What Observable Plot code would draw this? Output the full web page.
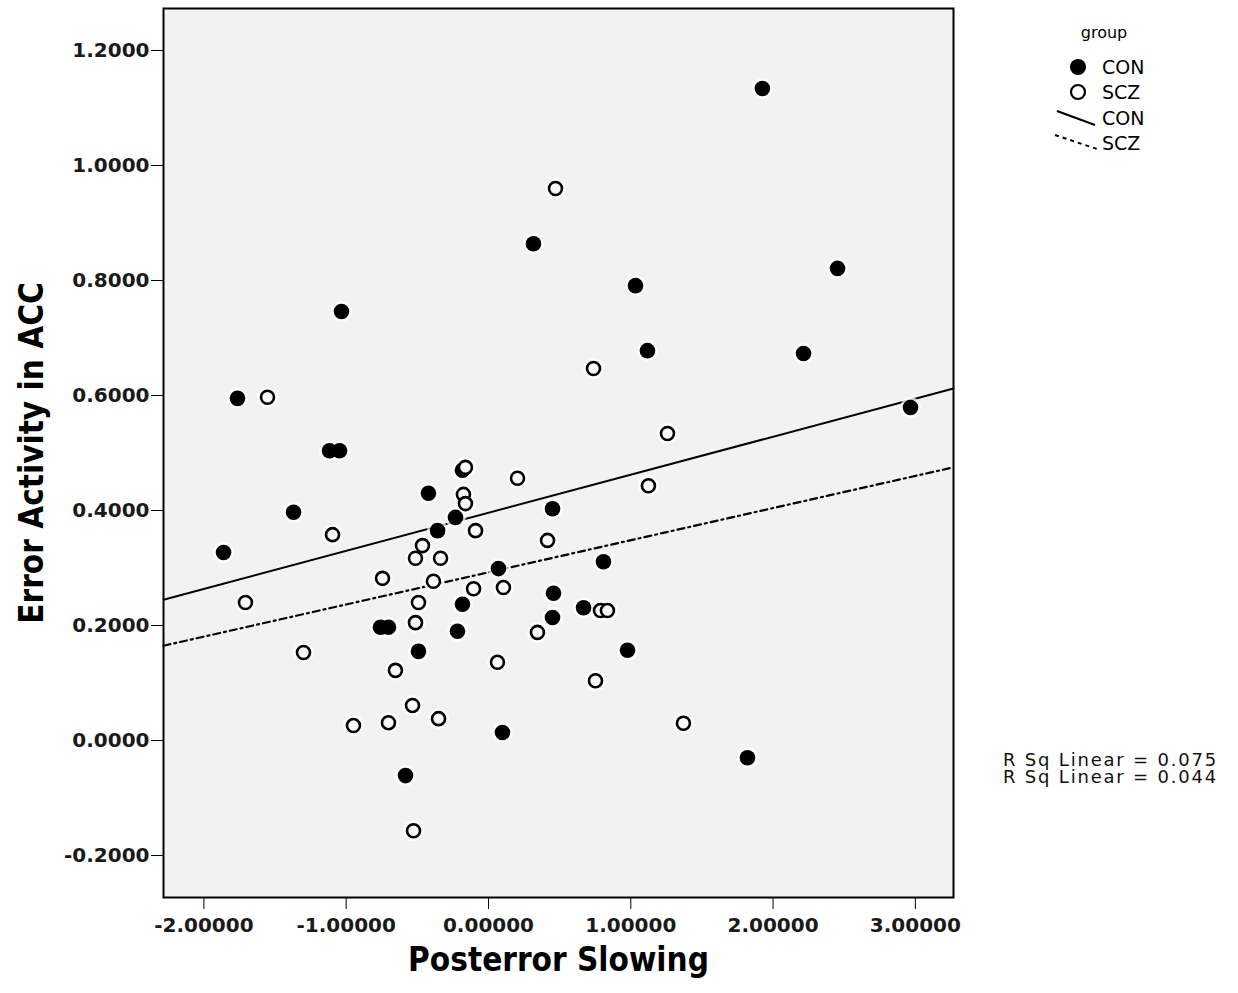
<!DOCTYPE html>
<html>
<head>
<meta charset="utf-8">
<script src="https://cdn.jsdelivr.net/npm/d3@7"></script>
<script src="https://cdn.jsdelivr.net/npm/@observablehq/plot@0.6"></script>
<style>
  html, body { margin: 0; padding: 0; background: #ffffff; }
  #wrap { position: relative; width: 1238px; height: 993px; overflow: hidden; }
  #legend { position: absolute; left: 1040px; top: 10px; }
  #rsq { position: absolute; left: 1003px; top: 751px; font-family: "DejaVu Sans", sans-serif; font-size: 18px; line-height: 17px; letter-spacing: 1.8px; color: #111; white-space: pre; }
  #chart g[aria-label="x-axis tick label"] text,
  #chart g[aria-label="y-axis tick label"] text { font-weight: bold; fill: #1a1a1a; }
</style>
</head>
<body>
<div id="wrap">
  <div id="chart"></div>
  <svg id="legend" width="140" height="150"></svg>
  <div id="rsq"></div>
</div>
<script>
// ---- data ----
const groups = ["CON", "SCZ"];
const conX = [-1.764, -1.862, -1.370, -1.033, -1.117, -1.047, -0.422, -0.358, -0.232, -0.183,
              0.316, 0.450, 0.070, 0.808, 0.457, 0.668, 0.450, -0.183, -0.218, -0.759,
              -0.703, -0.492, 0.098, 0.977, -0.583, 1.033, 1.117, 2.214, 1.925, 2.453,
              2.966, 1.820];
const conY = [0.595, 0.327, 0.397, 0.746, 0.504, 0.504, 0.430, 0.365, 0.388, 0.470,
              0.864, 0.403, 0.299, 0.311, 0.256, 0.231, 0.214, 0.237, 0.190, 0.197,
              0.197, 0.155, 0.014, 0.157, -0.061, 0.791, 0.678, 0.673, 1.134, 0.821,
              0.579, -0.030];
const sczX = [-1.553, -1.708, -1.300, -1.096, -0.162, -0.176, -0.162, -0.091, -0.464, -0.513,
              -0.337, -0.745, -0.387, -0.105, -0.492, -0.513, -0.654, -0.534, -0.949, -0.703,
              -0.351, -0.527, 0.204, 0.415, 0.105, 0.344, 0.063, 0.787, 0.836, 0.752,
              1.124, 1.258, 0.738, 0.471, 1.370];
const sczY = [0.597, 0.240, 0.153, 0.358, 0.475, 0.428, 0.412, 0.365, 0.339, 0.317,
              0.317, 0.282, 0.277, 0.264, 0.240, 0.205, 0.122, 0.061, 0.026, 0.031,
              0.038, -0.157, 0.456, 0.348, 0.266, 0.188, 0.136, 0.226, 0.226, 0.104,
              0.443, 0.534, 0.647, 0.960, 0.030];
const xTicks = [-2, -1, 0, 1, 2, 3];
const yTicks = [-0.2, 0, 0.2, 0.4, 0.6, 0.8, 1.0, 1.2];
const rSquared = ["0.075", "0.044"];
const xLabel = "Posterror Slowing";
const yLabel = "Error Activity in ACC";
const legendTitle = "group";

// ---- build tables ----
const con = conX.map((x, i) => ({x, y: conY[i], group: "CON"}));
const scz = sczX.map((x, i) => ({x, y: sczY[i], group: "SCZ"}));
const all = con.concat(scz);

const xDomain = [-2.284, 3.268];
const yDomain = [-0.273, 1.273];

// least-squares fit computed from the data, drawn across the frame
function fit(rows) {
  const mx = d3.mean(rows, d => d.x), my = d3.mean(rows, d => d.y);
  const sxy = d3.sum(rows, d => (d.x - mx) * (d.y - my));
  const sxx = d3.sum(rows, d => (d.x - mx) ** 2);
  const b = sxy / sxx, a = my - b * mx;
  return xDomain.map(x => ({x, y: a + b * x}));
}
const conFit = fit(con), sczFit = fit(scz);

const fmtX = d => d3.format(".5f")(d).replace("−", "-");
const fmtY = d => d3.format(".4f")(d).replace("−", "-");
const titleFont = "Liberation Sans Narrow, DejaVu Sans Condensed, sans-serif";

const chart = Plot.plot({
  width: 1238,
  height: 993,
  marginLeft: 163,
  marginRight: 285,
  marginTop: 8,
  marginBottom: 96,
  style: {fontFamily: "DejaVu Sans, sans-serif", background: "transparent", color: "#000"},
  x: {domain: xDomain},
  y: {domain: yDomain},
  marks: [
    Plot.frame({fill: "#f2f2f2", stroke: "none"}),
    Plot.line(conFit, {x: "x", y: "y", stroke: "#000", strokeWidth: 2}),
    Plot.line(sczFit, {x: "x", y: "y", stroke: "#000", strokeWidth: 2.2, strokeDasharray: "7,4,2,4"}),
    Plot.dot(all, {x: "x", y: "y", r: 10.5, fill: "#ffffff", fillOpacity: 0.75, stroke: "none"}),
    Plot.dot(con, {x: "x", y: "y", r: 7.8, fill: "#000", stroke: "none"}),
    Plot.dot(scz, {x: "x", y: "y", r: 6.5, fill: "#f8f8f8", stroke: "#000", strokeWidth: 2.6}),
    Plot.frame({stroke: "#000", strokeWidth: 2}),
    Plot.axisX({ticks: xTicks, tickFormat: fmtX, tickSize: 12, tickPadding: 8, fontSize: 20, label: null}),
    Plot.axisY({ticks: yTicks, tickFormat: fmtY, tickSize: 12, tickPadding: 2, fontSize: 20, label: null}),
    Plot.text([xLabel], {frameAnchor: "bottom", dy: 73, fontSize: 33, fontWeight: "bold",
      fontFamily: titleFont, textAnchor: "middle", fill: "#000"}),
    Plot.text([yLabel], {frameAnchor: "left", dx: -131, rotate: -90, fontSize: 33, fontWeight: "bold",
      fontFamily: titleFont, textAnchor: "middle", fill: "#000"})
  ]
});
document.getElementById("chart").appendChild(chart);

// ---- legend ----
const lg = d3.select("#legend");
const lf = "DejaVu Sans, sans-serif";
lg.append("text").attr("x", 64).attr("y", 28).attr("text-anchor", "middle")
  .attr("font-family", lf).attr("font-size", 16).text(legendTitle);
lg.append("circle").attr("cx", 38).attr("cy", 57).attr("r", 8).attr("fill", "#000");
lg.append("circle").attr("cx", 38).attr("cy", 82).attr("r", 7).attr("fill", "#fff")
  .attr("stroke", "#000").attr("stroke-width", 2.2);
lg.append("line").attr("x1", 17).attr("y1", 101).attr("x2", 55).attr("y2", 115)
  .attr("stroke", "#000").attr("stroke-width", 2);
lg.append("line").attr("x1", 15).attr("y1", 125).attr("x2", 57).attr("y2", 139)
  .attr("stroke", "#000").attr("stroke-width", 2).attr("stroke-dasharray", "4,4");
const rows = [groups[0], groups[1], groups[0], groups[1]];
const ys = [64, 89, 115, 140];
rows.forEach((t, i) => {
  lg.append("text").attr("x", 62).attr("y", ys[i]).attr("font-family", lf)
    .attr("font-size", 19).text(t);
});

// ---- R squared annotation ----
document.getElementById("rsq").textContent =
  rSquared.map(r => "R Sq Linear = " + r).join("\n");
</script>
</body>
</html>
